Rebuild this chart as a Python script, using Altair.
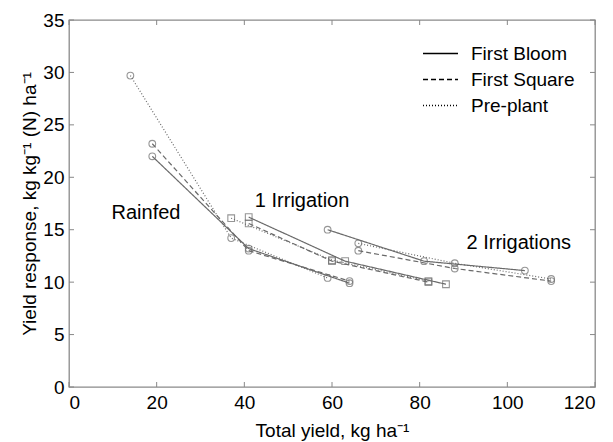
import altair as alt
import pandas as pd

# ---- data: yield response vs. total yield, per water regime and N timing ----
groups = ["Rainfed", "1 Irrigation", "2 Irrigations"]
timings = ["First Bloom", "First Square", "Pre-plant"]

# Rainfed
rainfed_bloom_x = [19, 41, 64]
rainfed_bloom_y = [22.0, 13.2, 9.9]
rainfed_square_x = [19, 41, 64]
rainfed_square_y = [23.2, 13.0, 10.1]
rainfed_preplant_x = [14, 37, 59]
rainfed_preplant_y = [29.7, 14.2, 10.4]

# One irrigation
irr1_bloom_x = [41, 63, 86]
irr1_bloom_y = [16.2, 12.0, 9.8]
irr1_square_x = [41, 60, 82]
irr1_square_y = [15.6, 12.0, 10.0]
irr1_preplant_x = [37, 60, 82]
irr1_preplant_y = [16.1, 12.1, 10.1]

# Two irrigations
irr2_bloom_x = [59, 81, 104]
irr2_bloom_y = [15.0, 12.0, 11.1]
irr2_square_x = [66, 88, 110]
irr2_square_y = [13.0, 11.3, 10.1]
irr2_preplant_x = [66, 88, 110]
irr2_preplant_y = [13.7, 11.8, 10.3]

# in-plot group annotations (data coordinates, left-aligned)
note_text = ["Rainfed", "1 Irrigation", "2 Irrigations"]
note_x = [9.7, 42.4, 90.7]
note_y = [16.6, 17.7, 13.7]

x_ticks = [0, 20, 40, 60, 80, 100, 120]
y_ticks = [0, 5, 10, 15, 20, 25, 30, 35]

series = [
    ("Rainfed", "First Bloom", rainfed_bloom_x, rainfed_bloom_y),
    ("Rainfed", "First Square", rainfed_square_x, rainfed_square_y),
    ("Rainfed", "Pre-plant", rainfed_preplant_x, rainfed_preplant_y),
    ("1 Irrigation", "First Bloom", irr1_bloom_x, irr1_bloom_y),
    ("1 Irrigation", "First Square", irr1_square_x, irr1_square_y),
    ("1 Irrigation", "Pre-plant", irr1_preplant_x, irr1_preplant_y),
    ("2 Irrigations", "First Bloom", irr2_bloom_x, irr2_bloom_y),
    ("2 Irrigations", "First Square", irr2_square_x, irr2_square_y),
    ("2 Irrigations", "Pre-plant", irr2_preplant_x, irr2_preplant_y),
]

rows = []
for g, t, xs, ys in series:
    for i, (xv, yv) in enumerate(zip(xs, ys)):
        rows.append({"group": g, "timing": t, "series": g + " / " + t,
                     "order": i, "yield": xv, "response": yv})
df = pd.DataFrame(rows)

notes = pd.DataFrame({"text": note_text, "x": note_x, "y": note_y})
xt = pd.DataFrame({"v": x_ticks})
yt = pd.DataFrame({"v": y_ticks})

FONT = "Liberation Sans"
W, H = 526, 367
LINE = "#6a6a6a"

x_scale = alt.Scale(domain=[0, 120], nice=False, zero=False)
y_scale = alt.Scale(domain=[0, 35], nice=False, zero=False)

x_enc = alt.X("yield:Q", scale=x_scale,
              axis=alt.Axis(values=x_ticks, title="Total yield, kg ha\u207b\u00b9"))
y_enc = alt.Y("response:Q", scale=y_scale,
              axis=alt.Axis(values=y_ticks,
                            title="Yield response, kg kg\u207b\u00b9 (N) ha\u207b\u00b9"))

lines = alt.Chart(df).mark_line(strokeWidth=1.2, color=LINE).encode(
    x=x_enc,
    y=y_enc,
    detail="series:N",
    order="order:Q",
    strokeDash=alt.StrokeDash(
        "timing:N",
        scale=alt.Scale(domain=timings, range=[[1, 0], [5, 3], [1, 2]]),
        legend=alt.Legend(
            title=None, orient="none", legendX=353, legendY=25,
            symbolType="stroke", symbolSize=1225, symbolStrokeWidth=1.3,
            symbolStrokeColor="black", labelFont=FONT, labelFontSize=19,
            labelColor="black", labelOffset=12, rowPadding=6, clipHeight=17,
        ),
    ),
)

points = alt.Chart(df).mark_point(filled=False, strokeWidth=1.1, color=LINE, size=45).encode(
    x="yield:Q",
    y="response:Q",
    shape=alt.Shape("group:N",
                    scale=alt.Scale(domain=groups, range=["circle", "square", "circle"]),
                    legend=None),
)

labels = alt.Chart(notes).mark_text(align="left", baseline="middle", font=FONT,
                                    fontSize=20, color="black").encode(
    x="x:Q", y="y:Q", text="text:N")

# inward tick marks on all four sides of the frame
tick_col = "#888888"
x_bottom = alt.Chart(xt).mark_rule(color=tick_col).encode(
    x="v:Q", y=alt.value(H), y2=alt.value(H - 5))
x_top = alt.Chart(xt).mark_rule(color=tick_col).encode(
    x="v:Q", y=alt.value(0), y2=alt.value(5))
y_left = alt.Chart(yt).mark_rule(color=tick_col).encode(
    y="v:Q", x=alt.value(0), x2=alt.value(5))
y_right = alt.Chart(yt).mark_rule(color=tick_col).encode(
    y="v:Q", x=alt.value(W), x2=alt.value(W - 5))

chart = alt.layer(
    x_bottom, x_top, y_left, y_right, lines, points, labels
).properties(
    width=W, height=H,
    autosize=alt.AutoSizeParams(type="none"),
    padding={"left": 69, "top": 20, "right": 18, "bottom": 55},
    background="white",
).configure_view(
    stroke="#8a8a8a", strokeWidth=1.3
).configure_axis(
    grid=False, domain=False, ticks=False,
    labelFont=FONT, labelFontSize=19, labelColor="black",
    titleFont=FONT, titleFontSize=19, titleFontWeight="normal", titleColor="black",
).configure_axisX(
    labelPadding=6, titlePadding=9,
).configure_axisY(
    labelPadding=5, titlePadding=3,
)

chart.save("out.html", embed_options={"renderer": "svg", "actions": False})
